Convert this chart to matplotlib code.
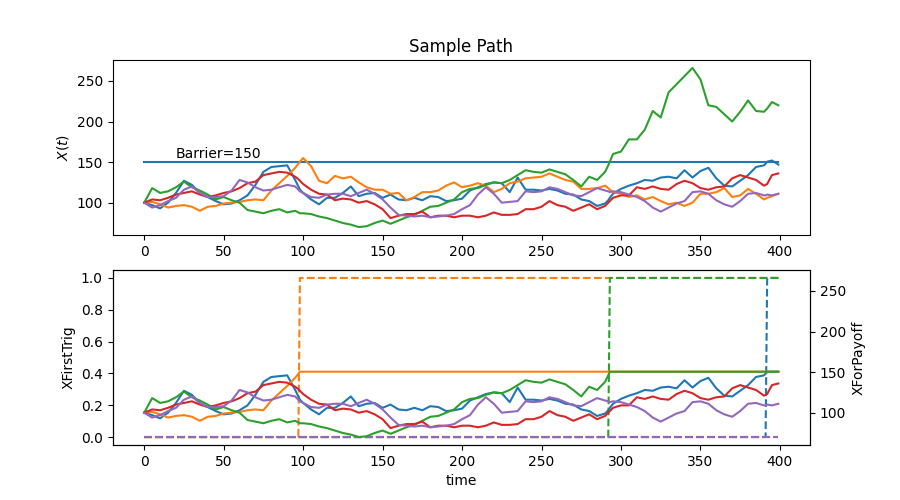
import numpy as np
import matplotlib
matplotlib.use('Agg')
import matplotlib.pyplot as plt

barrier = 150

time = ([0, 5, 10, 15, 20, 25, 30, 35, 40, 45, 50, 55, 60, 65, 70, 75, 80, 85, 90, 95]
        + [97, 98]
        + [100, 105, 110, 115, 120, 125, 130, 135, 140, 145, 150, 155, 160, 165, 170,
           175, 180, 185, 190, 195, 200, 205, 210, 215, 220, 225, 230, 235, 240, 245,
           250, 255, 260, 265, 270, 275, 280, 285, 290]
        + [292, 293]
        + [295, 300, 305, 310, 315, 320, 325, 330, 335, 340, 345, 350, 355, 360, 365,
           370, 375, 380, 385, 390]
        + [391, 392]
        + [395, 399])

path_blue = ([100, 97, 93, 100, 112, 127, 122, 112, 107, 102, 98, 99, 103, 109, 122, 138, 144, 145, 146, 128]
             + [120, 116]
             + [112, 104, 98, 106, 106, 112, 120, 108, 111, 112, 106, 110, 104, 103, 106,
                103, 108, 107, 102, 103, 105, 115, 119, 123, 125, 124, 113, 131, 116, 116,
                115, 117, 115, 111, 110, 104, 102, 96, 99]
             + [103, 106]
             + [111, 117, 121, 124, 128, 127, 131, 132, 130, 140, 131, 139, 143, 130, 121,
                120, 127, 134, 144, 146]
             + [148, 150.5]
             + [152, 147])

path_orange = ([100, 101, 98, 94, 96, 97, 95, 90, 95, 96, 99, 100, 101, 103, 104, 103, 115, 124, 133, 143]
               + [148, 150.5]
               + [155, 145, 127, 124, 133, 130, 132, 125, 119, 116, 116, 111, 112, 103, 107,
                  113, 113, 115, 121, 125, 119, 121, 124, 121, 113, 117, 124, 126, 130, 131,
                  132, 136, 132, 128, 126, 117, 117, 118, 121]
               + [118, 116]
               + [113, 111, 107, 109, 104, 107, 102, 98, 100, 96, 100, 111, 111, 113, 118,
                  107, 109, 117, 111, 104]
               + [105, 106]
               + [108, 111])

path_green = ([100, 118, 112, 114, 119, 126, 119, 115, 110, 104, 107, 103, 100, 91, 89, 87, 90, 92, 88, 90]
              + [88, 87]
              + [87, 86, 83, 81, 78, 75, 73, 70, 71, 75, 78, 74, 78, 82, 85,
                 90, 95, 96, 100, 104, 113, 117, 118, 122, 125, 124, 128, 134, 140, 138,
                 137, 141, 138, 135, 128, 120, 132, 128, 138]
              + [146, 150.5]
              + [160, 163, 178, 178, 190, 213, 205, 236, 246, 256, 266, 252, 220, 218, 209,
                 200, 212, 226, 213, 212]
              + [214, 216]
              + [224, 220])

path_red = ([100, 104, 103, 106, 110, 112, 114, 110, 107, 109, 112, 114, 118, 124, 126, 134, 136, 138, 137, 132]
            + [129, 127]
            + [123, 116, 111, 110, 103, 105, 104, 100, 102, 98, 92, 81, 84, 86, 86,
               89, 82, 84, 84, 82, 84, 84, 82, 84, 88, 85, 85, 86, 92, 92,
               95, 102, 97, 95, 90, 94, 98, 92, 96]
            + [100, 102]
            + [106, 109, 109, 119, 117, 120, 117, 116, 123, 127, 124, 118, 116, 119, 120,
               130, 134, 131, 128, 121]
            + [122, 123]
            + [134, 136])

path_purple = ([100, 94, 97, 102, 106, 116, 120, 112, 107, 107, 108, 115, 128, 125, 119, 115, 116, 119, 122, 120]
               + [116, 114]
               + [112, 107, 106, 110, 111, 111, 108, 112, 116, 111, 104, 94, 85, 84, 83,
                  84, 82, 83, 84, 86, 92, 97, 110, 119, 111, 100, 101, 102, 114, 113,
                  114, 119, 117, 113, 109, 108, 113, 118, 115]
               + [114, 113]
               + [114, 113, 110, 107, 102, 94, 89, 94, 99, 102, 113, 114, 111, 103, 98,
                  95, 102, 111, 112, 109]
               + [109, 110]
               + [109, 111])

paths = [path_blue, path_orange, path_green, path_red, path_purple]
colors = ['C0', 'C1', 'C2', 'C3', 'C4']

t = np.array(time, dtype=float)

fig = plt.figure(figsize=(9, 5), dpi=100)
ax1 = fig.add_subplot(211)
ax1.plot(t, [barrier] * len(t), color='C0')
for p, c in zip(paths, colors):
    ax1.plot(t, p, color=c)
ax1.text(20, 155, 'Barrier=150')
ax1.set_title('Sample Path')
ax1.set_ylabel('$X(t)$')

ax2 = fig.add_subplot(212)
ax3 = ax2.twinx()
for p, c in zip(paths, colors):
    arr = np.array(p, dtype=float)
    hit_mask = np.maximum.accumulate(arr) >= barrier
    trig = hit_mask.astype(float)
    pay = arr.copy()
    if hit_mask.any():
        k = int(np.argmax(hit_mask))
        pay[k:] = arr[k]
    ax2.plot(t, trig, '--', color=c)
    ax3.plot(t, pay, color=c)
ax3.set_ylim(ax1.get_ylim())
ax2.set_xlabel('time')
ax2.set_ylabel('XFirstTrig')
ax3.set_ylabel('XForPayoff')

fig.savefig('out.png', dpi=100)
